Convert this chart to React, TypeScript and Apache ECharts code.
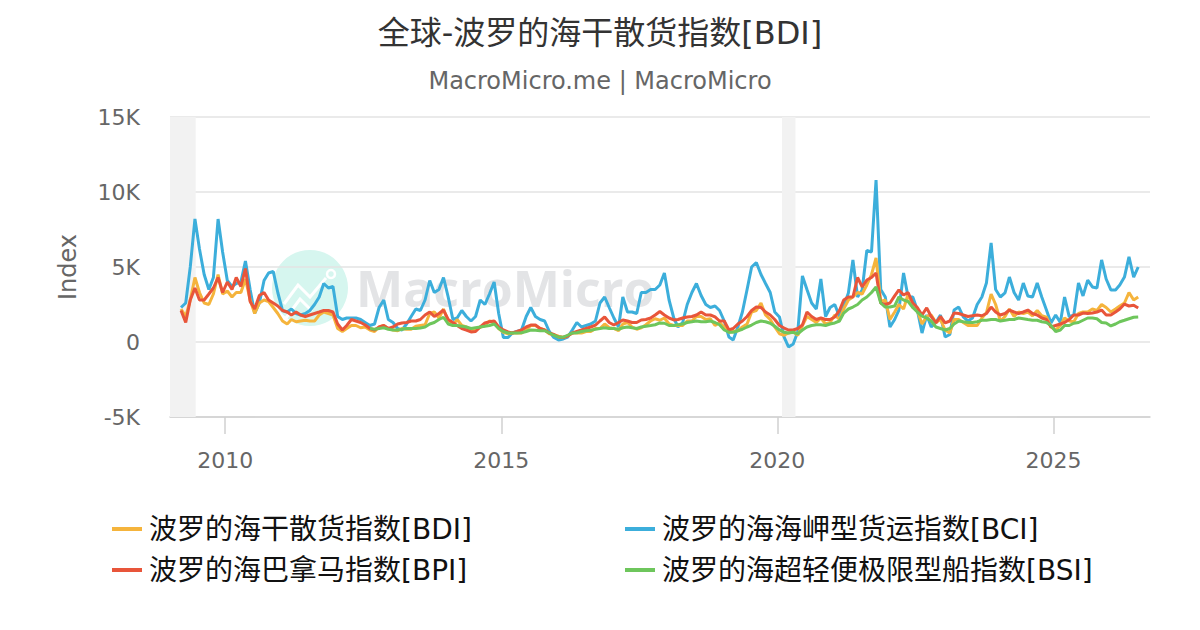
import React, { useEffect, useRef } from "react";
import * as echarts from "echarts";

// Monthly readings (15th of each month)
const BDI_START = [2009, 3];
const BDI = [
  2200, 1700, 2800, 4300, 3300, 2600, 2500, 3200, 4500, 3200,
  3400, 3000, 3300, 3300, 4200, 2800, 1900, 2600, 2800, 2700, 2300, 1900,
  1400, 1200, 1500, 1350, 1400, 1450, 1400, 1400, 1800, 2000, 1900, 1800,
  900, 700, 900, 1100, 1100, 950, 1000, 800, 700, 1000, 1100, 900,
  800, 750, 900, 850, 850, 1050, 1100, 1150, 1900, 2000, 1600, 2200,
  1400, 1100, 1500, 1100, 1000, 800, 800, 1000, 1100, 1400, 1300, 900,
  650, 550, 600, 600, 600, 800, 1100, 1100, 900, 800, 550, 480,
  380, 300, 400, 600, 600, 600, 700, 700, 900, 900, 1200, 950,
  900, 750, 1200, 1300, 1000, 850, 950, 1150, 1400, 1550, 1450, 1600,
  1200, 1100, 1100, 1100, 1400, 1400, 1700, 1700, 1500, 1550, 1100, 1300,
  1000, 650, 700, 750, 1000, 1200, 2000, 2100, 2600, 1800, 1500, 1000,
  550, 450, 600, 680, 450, 1100, 1700, 1500, 1300, 1600, 1200, 1300,
  1800, 1500, 2200, 2800, 3000, 3300, 3200, 3800, 4500, 5600, 2700, 2800,
  1500, 2000, 2500, 2200, 3200, 2300, 2100, 1200, 1700, 1800, 1300, 1500,
  800, 600, 1500, 1500, 1300, 1100, 1100, 1100, 1600, 1950, 3200, 2500,
  1400, 1700, 2200, 1700, 2000, 1900, 2000, 1750, 2100, 1750, 1650, 1000,
  800, 1100, 1600, 1400, 1350, 1900, 2000, 2000, 2200, 2100, 2500, 2300,
  2000, 2200, 2400, 2600, 3300, 2800, 3000,
];

const BCI_START = [2009, 3];
const BCI = [
  2300, 2600, 5000, 8200, 6200, 4500, 3500, 4300, 8200, 6000,
  4100, 3700, 3900, 4000, 5400, 3500, 1900, 2600, 4100, 4600, 4700, 3300,
  2100, 2000, 2200, 1900, 1800, 1900, 2100, 2500, 3000, 3900, 3600, 3700,
  1700, 1500, 1600, 1600, 1600, 1500, 1300, 1100, 1200, 2300, 2800, 1500,
  1300, 900, 800, 1200, 1700, 2200, 2100, 2800, 4100, 3300, 3500, 4300,
  3000, 1500, 1600, 2100, 1700, 1400, 1700, 2800, 2500, 3200, 4000, 1900,
  300, 300, 600, 700, 800, 1700, 2300, 1700, 1500, 1400, 700, 300,
  130, 200, 330, 800, 1300, 1000, 1100, 1200, 1400, 2600, 3000, 2300,
  1600, 1000, 3000, 2000, 2000, 1900, 3300, 3300, 3500, 3500, 3800, 4600,
  2800, 1600, 1000, 1300, 2500, 3300, 3900, 3100, 2500, 2300, 2400, 2100,
  1400, 330, 130, 1000, 2000, 3500, 5000, 5300, 4500, 3900, 3300, 2000,
  1670, 330, -330, -130, 670, 4400, 3500, 2600, 2200, 4200, 1700, 2300,
  2500, 1700, 2400, 3270, 5470, 3000, 3470, 6100, 6000, 10800, 3500, 3000,
  1000, 1500, 2130, 4600, 3000, 3000, 2130, 600, 1800, 1000, 1300, 1800,
  330, 500, 2130, 2330, 1670, 1400, 1600, 2500, 3000, 3930, 6600, 3500,
  3000, 3270, 4330, 3300, 2800, 3930, 3070, 3000, 3930, 3000, 2130, 1270,
  1800, 1300, 3000, 1670, 1800, 3930, 3070, 4130, 3670, 3600, 5470, 4200,
  3470, 3470, 3800, 4330, 5670, 4330, 5000,
];

const BPI_START = [2009, 3];
const BPI = [
  2100, 1300, 2800, 3600, 2800, 2800, 3200, 3600, 4300, 3300,
  4000, 3500, 4300, 3700, 4900, 2700, 2200, 3100, 3300, 2800, 2600, 2400,
  2100, 2000, 1800, 2000, 1800, 1700, 1800, 1900, 2000, 2100, 2100, 2000,
  1200, 800, 1100, 1500, 1400, 1300, 1130, 900, 800, 1000, 1100, 900,
  1000, 1200, 1270, 1300, 1400, 1400, 1500, 1800, 2000, 1700, 1900, 2130,
  1500, 1300, 1100, 900, 800, 670, 700, 1000, 1270, 1350, 1400, 1000,
  800, 670, 600, 700, 800, 1000, 1130, 1130, 900, 800, 600, 500,
  330, 300, 400, 600, 700, 800, 900, 1000, 1130, 1400, 1670, 1300,
  1130, 1300, 1470, 1400, 1300, 1300, 1470, 1500, 1600, 1800, 2030, 1800,
  1600, 1470, 1500, 1600, 1670, 1700, 1800, 2000, 1800, 1800, 1670, 1400,
  1400, 800, 900, 1200, 1400, 1700, 2100, 2330, 2300, 2000, 1800, 1500,
  1100, 930, 800, 800, 900, 1130, 2000, 1700, 1500, 1600, 1500, 1500,
  1670, 2100, 2800, 3000, 3000, 4300, 3670, 4130, 4300, 4600, 2600, 2500,
  2600, 3070, 3470, 3130, 3300, 2600, 2300, 1800, 2270, 1700, 1270, 1700,
  1270, 1400, 1930, 1900, 1800, 1700, 1750, 1800, 1750, 1900, 2330, 2000,
  1800, 1900, 2130, 2000, 1900, 2000, 2130, 1900, 1800, 1600, 1500, 1000,
  1100, 1200, 1300, 1500, 1800, 1800, 1930, 1900, 1930, 2000, 2130, 1800,
  1800, 2000, 2200, 2530, 2400, 2450, 2270,
];

const BSI_START = [2012, 8];
const BSI = [
  900, 850, 900, 950, 850,
  800, 800, 850, 900, 900, 900, 930, 1000, 1200, 1300, 1500, 1650,
  1200, 1100, 1100, 1050, 1000, 900, 950, 1000, 1050, 1100, 1200, 900,
  700, 600, 600, 600, 620, 700, 800, 780, 750, 750, 600, 450,
  330, 320, 450, 600, 620, 700, 750, 780, 850, 900, 950, 900,
  900, 850, 950, 1000, 950, 900, 1000, 1050, 1100, 1150, 1270, 1250,
  1100, 1100, 1150, 1200, 1300, 1350, 1400, 1350, 1350, 1400, 1300, 1150,
  800, 650, 650, 750, 850, 1000, 1130, 1300, 1400, 1350, 1250, 1050,
  800, 650, 600, 650, 550, 800, 1000, 1100, 1150, 1150, 1100, 1200,
  1270, 1400, 1930, 2200, 2330, 2500, 2800, 3000, 3300, 3670, 2600, 2330,
  2330, 2400, 3000, 2800, 2700, 2300, 2000, 1730, 1600, 1400, 1000, 900,
  800, 900, 1200, 1400, 1350, 1300, 1300, 1350, 1450, 1450, 1500, 1500,
  1400, 1450, 1500, 1500, 1600, 1550, 1500, 1450, 1450, 1350, 1300, 1100,
  700, 800, 1100, 1100, 1250, 1300, 1450, 1600, 1600, 1550, 1300, 1270,
  1070, 1200, 1350, 1450, 1550, 1650, 1670,
];

const YEAR_TICKS = [2010, 2015, 2020, 2025];
const SHADED = [
  [[2009, 0, 1], [2009, 5, 20]],
  [[2020, 1, 1], [2020, 3, 30]],
];

const NAMES = [
  "波罗的海干散货指数[BDI]",
  "波罗的海海岬型货运指数[BCI]",
  "波罗的海巴拿马指数[BPI]",
  "波罗的海超轻便极限型船指数[BSI]",
];
const COLORS = ["#F5B43C", "#3CAEDB", "#E8553A", "#6EC65C"];

function toPairs(start: number[], vals: number[]) {
  return vals.map((v, i) => {
    const m = start[1] - 1 + i;
    const y = start[0] + Math.floor(m / 12);
    return [Date.UTC(y, m % 12, 15), v];
  });
}

const FONT = "'DejaVu Sans', 'Noto Sans CJK SC', sans-serif";

export default function App() {
  const ref = useRef<HTMLDivElement>(null);
  useEffect(() => {
    if (!ref.current) return;
    const chart = echarts.init(ref.current, undefined, { renderer: "svg" });
    const seriesData = [
      toPairs(BDI_START, BDI),
      toPairs(BCI_START, BCI),
      toPairs(BPI_START, BPI),
      toPairs(BSI_START, BSI),
    ];
    const zs = [3, 2, 4, 5];
    const tickVals = YEAR_TICKS.map((y) => Date.UTC(y, 0, 1));
    const legendBase = {
      orient: "vertical",
      top: 510,
      icon: "rect",
      itemWidth: 30,
      itemHeight: 4,
      itemGap: 13,
      textStyle: { fontSize: 28, color: "#111", fontFamily: FONT, padding: [0, 0, 0, 2] },
    };
    chart.setOption({
      animation: false,
      color: COLORS,
      textStyle: { fontFamily: FONT },
      title: [
        {
          text: "全球-波罗的海干散货指数[BDI]",
          left: "center",
          top: 12,
          textStyle: { fontSize: 32, fontWeight: "normal", color: "#333", fontFamily: FONT },
        },
        {
          text: "MacroMicro.me | MacroMicro",
          left: "center",
          top: 64,
          textStyle: { fontSize: 24, fontWeight: "normal", color: "#666", fontFamily: FONT },
        },
      ],
      graphic: [
        {
          type: "group",
          z: 0,
          silent: true,
          children: [
            { type: "circle", shape: { cx: 310, cy: 288, r: 38 }, style: { fill: "#d6f6ef" } },
            {
              type: "polyline",
              shape: { points: [[284, 304], [298, 285], [310, 297], [326, 278]] },
              style: { stroke: "#ffffff", lineWidth: 3, fill: "none" },
            },
            {
              type: "polyline",
              shape: { points: [[286, 318], [300, 299], [312, 311]] },
              style: { stroke: "#ffffff", lineWidth: 3, fill: "none" },
            },
            { type: "circle", shape: { cx: 331, cy: 274, r: 4 }, style: { stroke: "#ffffff", lineWidth: 2.5, fill: "none" } },
            {
              type: "text",
              x: 356,
              y: 288,
              style: {
                text: "MacroMicro",
                fontSize: 50,
                fontWeight: "bold",
                fontFamily: "'Open Sans', sans-serif",
                fill: "#e3e4e6",
                verticalAlign: "middle",
              },
            },
          ],
        },
      ],
      legend: [
        { ...legendBase, data: [NAMES[0], NAMES[2]], left: 107 },
        { ...legendBase, data: [NAMES[1], NAMES[3]], left: 620 },
      ],
      grid: { left: 170, right: 50, top: 117, bottom: 213, containLabel: false },
      xAxis: {
        type: "value",
        min: Date.UTC(2009, 0, 1),
        max: Date.UTC(2026, 9, 1),
        axisLine: { show: true, onZero: false, lineStyle: { color: "#d0d0d0", width: 1.5 } },
        axisTick: { show: true, length: 17, lineStyle: { color: "#d0d0d0", width: 1.5 }, customValues: tickVals },
        axisLabel: {
          customValues: tickVals,
          margin: 32,
          fontSize: 22,
          color: "#666",
          fontFamily: FONT,
          formatter: (v: number) => String(new Date(v).getUTCFullYear()),
        },
        splitLine: { show: false },
      },
      yAxis: {
        type: "value",
        min: -5000,
        max: 15000,
        interval: 5000,
        name: "Index",
        nameLocation: "middle",
        nameGap: 90,
        nameTextStyle: { fontSize: 24, color: "#666", fontFamily: FONT },
        axisLine: { show: false },
        axisTick: { show: false },
        axisLabel: {
          fontSize: 22,
          color: "#666",
          margin: 30,
          fontFamily: FONT,
          formatter: (v: number) => (v === 0 ? "0" : v / 1000 + "K"),
        },
        splitLine: { lineStyle: { color: "#e3e3e3", width: 1.5 } },
      },
      series: NAMES.map((name, i) => ({
        name,
        type: "line",
        data: seriesData[i],
        showSymbol: false,
        symbol: "none",
        z: zs[i],
        lineStyle: { width: 3, color: COLORS[i] },
        itemStyle: { color: COLORS[i] },
        markArea:
          i === 1
            ? {
                silent: true,
                itemStyle: { color: "#f2f2f2" },
                data: SHADED.map(([a, b]) => [
                  { xAxis: Date.UTC(a[0], a[1], a[2]) },
                  { xAxis: Date.UTC(b[0], b[1], b[2]) },
                ]),
              }
            : undefined,
      })),
    });
    return () => chart.dispose();
  }, []);
  return (
    <div
      ref={ref}
      style={{ position: "fixed", left: 0, top: 0, width: 1200, height: 630, background: "#fff" }}
    />
  );
}
